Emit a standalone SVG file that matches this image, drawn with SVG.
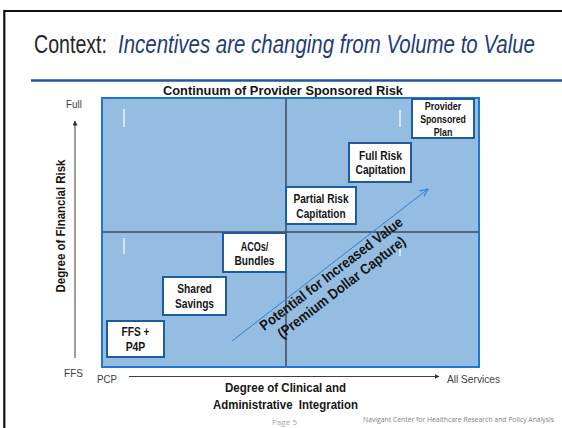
<svg xmlns="http://www.w3.org/2000/svg" width="562" height="428" viewBox="0 0 562 428">
<style>
.lbl{font-family:"Liberation Sans",Arial,sans-serif;font-weight:bold;fill:#151515;text-anchor:middle}
.box{fill:#ffffff;stroke:#1f5c9e;stroke-width:2}
.ax{font-family:"Liberation Sans",Arial,sans-serif;fill:#404040;font-size:11.5px}
.tick{stroke:#ffffff;stroke-width:1.2}
</style>
<defs>
<marker id="ahDark" viewBox="0 0 10 10" refX="9" refY="5" markerWidth="5" markerHeight="5" orient="auto" markerUnits="userSpaceOnUse">
<path d="M0,0 L10,5 L0,10 z" fill="#303030"/>
</marker>
<marker id="ahBlue" viewBox="0 0 10 10" refX="9" refY="5" markerWidth="9" markerHeight="9" orient="auto" markerUnits="userSpaceOnUse">
<path d="M0,1 L9,5 L0,9" fill="none" stroke="#2f7fd6" stroke-width="1.2"/>
</marker>
</defs>
<rect x="0" y="0" width="562" height="428" fill="#ffffff"/>
<path d="M4.3,428 V11 H562" fill="none" stroke="#111" stroke-width="2.2"/>
<text transform="translate(34,53) scale(1,1.25)" x="0" y="0" font-family="'Liberation Sans',Arial,sans-serif" font-size="20" fill="#262626" textLength="73" lengthAdjust="spacingAndGlyphs">Context:</text>
<text transform="translate(118,53) scale(1,1.25)" x="0" y="0" font-family="'Liberation Sans',Arial,sans-serif" font-size="20" font-style="italic" fill="#1f3c7a" textLength="417" lengthAdjust="spacingAndGlyphs">Incentives are changing from Volume to Value</text>
<line x1="31" y1="80.5" x2="562" y2="80.5" stroke="#1f5a9a" stroke-width="2.5"/>
<text class="lbl" x="283" y="95" font-size="13.5" textLength="240" lengthAdjust="spacingAndGlyphs">Continuum of Provider Sponsored Risk</text>

<g id="matrix">
<rect x="102" y="98" width="377" height="269" fill="#95bde1" stroke="#1f78d0" stroke-width="2"/>
<line x1="286" y1="99" x2="286" y2="366" stroke="#3b4a5a" stroke-width="1.5"/>
<line x1="103" y1="232" x2="478" y2="232" stroke="#3b4a5a" stroke-width="1.5"/>
<line class="tick" x1="124" y1="109" x2="124" y2="127"/>
<line class="tick" x1="124" y1="238" x2="124" y2="254"/>
<line class="tick" x1="400" y1="110" x2="400" y2="127"/>
<line class="tick" x1="400" y1="248" x2="400" y2="256"/>
</g>

<g id="connectors">
<line x1="232" y1="341" x2="428" y2="189" stroke="#2f7fd6" stroke-width="1" marker-end="url(#ahBlue)"/>
<line x1="75" y1="358" x2="75" y2="121" stroke="#404040" stroke-width="1" marker-end="url(#ahDark)"/>
<line x1="129" y1="376.5" x2="439" y2="376.5" stroke="#404040" stroke-width="1" marker-end="url(#ahDark)"/>
</g>

<g id="node-psp">
<rect class="box" x="412" y="99" width="62" height="39"/>
<text class="lbl" x="443" y="110" font-size="11" textLength="36.7" lengthAdjust="spacingAndGlyphs">Provider</text>
<text class="lbl" x="443" y="123" font-size="11" textLength="45.7" lengthAdjust="spacingAndGlyphs">Sponsored</text>
<text class="lbl" x="443" y="135.7" font-size="11" textLength="18.7" lengthAdjust="spacingAndGlyphs">Plan</text>
</g>
<g id="node-frc">
<rect class="box" x="349" y="143" width="62" height="39"/>
<text class="lbl" x="380.5" y="160" font-size="13" textLength="43" lengthAdjust="spacingAndGlyphs">Full Risk</text>
<text class="lbl" x="380.5" y="174" font-size="13" textLength="50" lengthAdjust="spacingAndGlyphs">Capitation</text>
</g>
<g id="node-prc">
<rect class="box" x="286" y="187" width="70" height="37"/>
<text class="lbl" x="321" y="202.7" font-size="13" textLength="55" lengthAdjust="spacingAndGlyphs">Partial Risk</text>
<text class="lbl" x="321" y="217.7" font-size="13" textLength="49.3" lengthAdjust="spacingAndGlyphs">Capitation</text>
</g>
<g id="node-aco">
<rect class="box" x="223" y="233" width="63" height="39"/>
<text class="lbl" x="254.5" y="250.7" font-size="13" textLength="27.7" lengthAdjust="spacingAndGlyphs">ACOs/</text>
<text class="lbl" x="254.5" y="265" font-size="13" textLength="40" lengthAdjust="spacingAndGlyphs">Bundles</text>
</g>
<g id="node-shared">
<rect class="box" x="163" y="277" width="63" height="38"/>
<text class="lbl" x="194.5" y="293.3" font-size="13" textLength="34.7" lengthAdjust="spacingAndGlyphs">Shared</text>
<text class="lbl" x="194.5" y="307.7" font-size="13" textLength="39" lengthAdjust="spacingAndGlyphs">Savings</text>
</g>
<g id="node-ffs">
<rect class="box" x="107" y="321" width="57" height="36"/>
<text class="lbl" x="135.5" y="336" font-size="13" textLength="28" lengthAdjust="spacingAndGlyphs">FFS +</text>
<text class="lbl" x="135.5" y="350.7" font-size="13" textLength="19.6" lengthAdjust="spacingAndGlyphs">P4P</text>
</g>

<g id="diag-label" transform="translate(336,280) rotate(-37.5)">
<text class="lbl" x="0" y="-3" font-size="14.5" textLength="176" lengthAdjust="spacingAndGlyphs">Potential for Increased Value</text>
<text class="lbl" x="0" y="14" font-size="14.5" textLength="157" lengthAdjust="spacingAndGlyphs">(Premium Dollar Capture)</text>
</g>

<g id="axis-labels">
<text class="ax" x="66" y="108" textLength="16" lengthAdjust="spacingAndGlyphs">Full</text>
<text class="ax" x="64" y="377" textLength="19" lengthAdjust="spacingAndGlyphs">FFS</text>
<text class="ax" x="97" y="383" textLength="20" lengthAdjust="spacingAndGlyphs">PCP</text>
<text class="ax" x="447" y="383" textLength="53" lengthAdjust="spacingAndGlyphs">All Services</text>
<text class="lbl" transform="translate(65,226) rotate(-90)" x="0" y="0" font-size="13" textLength="133" lengthAdjust="spacingAndGlyphs">Degree of Financial Risk</text>
<text class="lbl" x="285.5" y="392" font-size="13" textLength="121" lengthAdjust="spacingAndGlyphs">Degree of Clinical and</text>
<text class="lbl" x="285.5" y="409" font-size="13" textLength="145" lengthAdjust="spacingAndGlyphs" xml:space="preserve">Administrative  Integration</text>
</g>

<g id="footer">
<text x="272" y="425" font-family="'Open Sans','Liberation Sans',sans-serif" font-size="8" fill="#a6a6a6" textLength="25" lengthAdjust="spacingAndGlyphs">Page 5</text>
<text x="363" y="422" font-family="'Open Sans','Liberation Sans',sans-serif" font-size="6.5" fill="#808080" textLength="191" lengthAdjust="spacingAndGlyphs">Navigant Center for Healthcare Research and Policy Analysis</text>
</g>
</svg>
